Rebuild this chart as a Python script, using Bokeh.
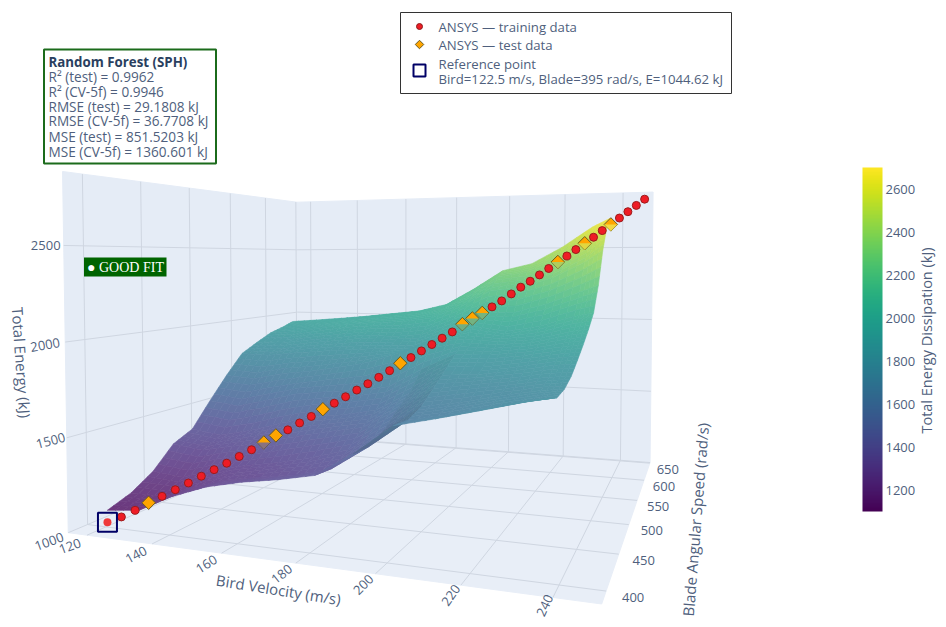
import numpy as np
from bokeh.plotting import figure
from bokeh.embed import file_html
from bokeh.resources import INLINE
from bokeh.models import Range1d, ColorBar, LinearColorMapper, FixedTicker
from bokeh.core.properties import value
from bokeh.palettes import Viridis256

# ---- data ----
bird_ticks=[120,140,160,180,200,220,240]
blade_ticks=[400,450,500,550,600,650]
energy_ticks=[1000,1500,2000,2500]
colorbar_ticks=[1200,1400,1600,1800,2000,2200,2400,2600]
point_bird=[122.5,125,127.5,130,132.5,135,137.5,140,142.5,145,147.5,150,152.5,155,157.5,160,162.5,165,167.5,170,172.5,175,177.5,180,182.5,185,187.5,190,192.5,195,197.5,200,202.5,205,207.5,210,212.5,215,217.5,220,222.5,225,227.5,230,232.5,235,237.5,240,242.5,245,247.5]
point_blade=[395,400,405,410,415,420,425,430,435,440,445,450,455,460,465,470,475,480,485,490,495,500,505,510,515,520,525,530,535,540,545,550,555,560,565,570,575,580,585,590,595,600,605,610,615,620,625,630,635,640,645]
point_energy=[1044.62,1064,1091,1123,1150,1178,1207,1237,1266,1295,1326,1357,1392,1426,1452,1486,1518,1555,1585,1618,1653,1686,1720,1756,1797,1828,1865,1901,1937,1973,2019,2052,2085,2121,2157,2200,2242,2279,2319,2360,2402,2441,2483,2525,2565,2610,2652,2696,2740,2784,2828]
test_index=[3,12,13,17,24,30,31,32,40,43,46]
surface_bird=[122.5,132.5,142.5,152.5,162.5,172.5,182.5,192.5,202.5,212.5,222.5,232.5,238.0]
surface_blade=[395,415,435,455,475,495,515,535,555,575,595,610]
surface_energy=[
[1108,1128,1219,1286,1328,1358,1396,1515,1661,1705,1753,1802,1825],
[1150,1150,1218,1274,1307,1335,1384,1510,1652,1691,1736,1781,1798],
[1223,1207,1266,1305,1338,1381,1436,1551,1685,1717,1760,1797,1809],
[1340,1317,1355,1392,1439,1482,1516,1624,1748,1777,1803,1835,1844],
[1392,1369,1410,1465,1517,1540,1579,1685,1816,1824,1855,1891,1902],
[1535,1513,1559,1609,1632,1652,1683,1793,1886,1889,1913,1949,1964],
[1670,1658,1699,1723,1756,1796,1864,1936,1955,1947,1963,2013,2032],
[1793,1788,1811,1831,1845,1861,1864,1936,2016,1991,2026,2088,2111],
[1848,1851,1878,1900,1924,1920,1938,2013,2084,2091,2147,2221,2264],
[1899,1914,1945,1975,1991,2003,2031,2108,2215,2242,2303,2401,2476],
[1929,1950,1978,2001,2024,2043,2079,2184,2304,2333,2406,2516,2628],
[1957,1973,1990,2009,2032,2055,2104,2216,2342,2390,2498,2632,2686]]
info_title="Random Forest (SPH)"
info_lines=["R² (test) = 0.9962","R² (CV-5f) = 0.9946","RMSE (test) = 29.1808 kJ","RMSE (CV-5f) = 36.7708 kJ","MSE (test) = 851.5203 kJ","MSE (CV-5f) = 1360.601 kJ"]

# ---- scene: a perspective map calibrated on the scene box and the series ----
W,H=938,619
p=figure(width=W,height=H,x_range=Range1d(0,W),y_range=Range1d(H,0),output_backend="svg",toolbar_location=None,min_border=0,outline_line_color=None)
p.axis.visible=False;p.grid.visible=False
bmin,bmax,wmin,wmax,zmin,zmax=114,250,385,652,1000,2880
anc=[((bmin,wmin,zmin),(77,532),1),((bmax,wmin,zmin),(605,602),1),((bmax,wmax,zmin),(652,460),1),((bmin,wmax,zmin),(297,434),1),((bmin,wmin,zmax),(63,167),1),((bmin,wmax,zmax),(299,200),1),((bmax,wmax,zmax),(657,192),1),
     ((120,wmax,zmax),(312,201),1),((240,wmax,zmax),(622,193),1),((240,wmin,zmin),(555,592),1),((200,wmin,zmin),(377,573),1),
     ((122.5,395,1044.62),(106.7,522.3),4),((152.5,455,1392),(262.7,441.7),4),((185,520,1828),(410,357.3),4),((217.5,585,2319),(538.7,274.7),4),((247.5,645,2828),(644,198.7),4)]
def nrm(X): return np.array([(X[0]-bmin)/(bmax-bmin),(X[1]-wmin)/(wmax-wmin),(X[2]-zmin)/(zmax-zmin),1.0])
A=[]
for X,(u,v),g in anc:
    n=nrm(X)
    A.append(g*np.r_[n,0*n,-u*n]);A.append(g*np.r_[0*n,n,-v*n])
_,_,Vt=np.linalg.svd(np.array(A));P=Vt[-1].reshape(3,4)
if (P@nrm((bmin,wmin,zmin)))[2]<0: P=-P
def proj(b,w,z):
    r=P@nrm((b,w,z));return r[0]/r[2],r[1]/r[2]
def depth(b,w,z): return (P@nrm((b,w,z)))[2]
gb=np.array(surface_bird);gw=np.array(surface_blade);Z=np.array(surface_energy,float)
def blend(e,shade=1.0):
    v=Viridis256[int(np.clip((e-1100)/1600,0,1)*255)]
    c=np.array([int(v[i:i+2],16) for i in (1,3,5)],float)
    c=(c*.76+np.array([235,230,250])*.24)*shade
    return "#%02x%02x%02x"%tuple(int(q) for q in np.clip(c,0,255))
def zint(b,w):
    i=int(np.clip(np.searchsorted(gb,b)-1,0,len(gb)-2));j=int(np.clip(np.searchsorted(gw,w)-1,0,len(gw)-2))
    a=np.clip((b-gb[i])/(gb[i+1]-gb[i]),0,1);c=np.clip((w-gw[j])/(gw[j+1]-gw[j]),0,1)
    return (1-a)*(1-c)*Z[j,i]+a*(1-c)*Z[j,i+1]+(1-a)*c*Z[j+1,i]+a*c*Z[j+1,i+1]
wallc="#e5ecf6";gridc="#cfd6e1"
def poly(pts,col):
    p.patch([q[0] for q in pts],[q[1] for q in pts],fill_color=col,line_color=col)
poly([proj(bmin,wmin,zmin),proj(bmin,wmax,zmin),proj(bmin,wmax,zmax),proj(bmin,wmin,zmax)],wallc)
poly([proj(bmin,wmax,zmin),proj(bmax,wmax,zmin),proj(bmax,wmax,zmax),proj(bmin,wmax,zmax)],wallc)
poly([proj(bmin,wmin,zmin),proj(bmax,wmin,zmin),proj(bmax,wmax,zmin),proj(bmin,wmax,zmin)],"#e8eef7")
def seg(a,b):
    pa=proj(*a);pb=proj(*b);p.line([pa[0],pb[0]],[pa[1],pb[1]],line_color=gridc,line_width=1)
for b in bird_ticks:
    seg((b,wmin,zmin),(b,wmax,zmin));seg((b,wmax,zmin),(b,wmax,zmax))
for w in blade_ticks:
    seg((bmin,w,zmin),(bmax,w,zmin));seg((bmin,w,zmin),(bmin,w,zmax))
for z in energy_ticks:
    seg((bmin,wmin,z),(bmin,wmax,z));seg((bmin,wmax,z),(bmax,wmax,z))
# surface
N=4;cells=[]
for j in range(len(gw)-1):
    for i in range(len(gb)-1):
        sl=max(Z[j,i+1]-Z[j,i],Z[j+1,i+1]-Z[j+1,i])/(gb[i+1]-gb[i])
        sh=1-0.3*np.clip((sl-12.5)/5,0,1) if i<len(gb)-3 else 1.0
        for a in range(N):
            for c in range(N):
                q=[];zz=[]
                for da,dc in ((0,0),(1,0),(1,1),(0,1)):
                    aa=(a+da)/N;cc=(c+dc)/N
                    z=(1-aa)*(1-cc)*Z[j,i]+aa*(1-cc)*Z[j,i+1]+(1-aa)*cc*Z[j+1,i]+aa*cc*Z[j+1,i+1]
                    bb=gb[i]+aa*(gb[i+1]-gb[i]);ww=gw[j]+cc*(gw[j+1]-gw[j])
                    q.append(proj(bb,ww,z));zz.append(z)
                cells.append((depth(bb,ww,np.mean(zz)),[u[0] for u in q],[u[1] for u in q],blend(np.mean(zz),sh)))
cells.sort(key=lambda r:-r[0])
p.patches([r[1] for r in cells],[r[2] for r in cells],fill_color=[r[3] for r in cells],line_color=[r[3] for r in cells],line_width=0.6)
# points
pts=[proj(point_bird[k],point_blade[k],point_energy[k]) for k in range(51)]
tr=[k for k in range(1,51) if k not in test_index]
p.scatter([pts[k][0] for k in test_index],[pts[k][1] for k in test_index],marker="square",angle=np.pi/4,size=9.5,fill_color="#ffa500",line_color="#6b5a1e",line_width=1)
covered=[12,30,31,32,40,43,46]
p.patches([[pts[k][0]-6.7,pts[k][0]+6.7,pts[k][0]] for k in covered],[[pts[k][1],pts[k][1],pts[k][1]+6.7] for k in covered],
          fill_color=[blend(zint(point_bird[k],point_blade[k])) for k in covered],fill_alpha=0.8,line_color=None)
p.scatter([pts[k][0] for k in tr],[pts[k][1] for k in tr],marker="circle",size=8,fill_color="#ee1c25",line_color="#9b1c1c",line_width=1)
p.scatter([pts[0][0]],[pts[0][1]],marker="circle",size=8,fill_color="#ef3a3a",line_color=None)
p.scatter([pts[0][0]],[pts[0][1]],marker="square",size=19,fill_color=None,line_color="#000066",line_width=2)
# tick labels and titles
F=value("Open Sans");TC="#4f5f7d"
def label(x,y,t,size="13px",angle=0,color=TC,align="center",font=F,style="normal"):
    p.text([x],[y],text=[t],text_font=font,text_font_size=size,angle=[np.radians(angle)],text_color=color,text_align=align,text_baseline="middle",text_font_style=style)
for b,a,dx,dy in zip(bird_ticks,[20,28,32,38,45,55,65],[-17,-16,-15,-14,-12,-10,-8],[11,11,11,11,11,10,8]):
    x,y=proj(b,wmin,zmin);label(x+dx,y+dy,str(b),angle=a)
for z,a,dx,dy in zip(energy_ticks,[20,15,10,0],[-19,-16,-20,-18],[9,3,3,0]):
    x,y=proj(bmin,wmin,z);label(x+dx,y+dy,str(z),angle=a)
for w,dx in zip(blade_ticks,[27,25,23,21,20,18]):
    x,y=proj(bmax,w,zmin);label(x+dx,y+6,str(w))
label(278,589,"Bird Velocity (m/s)",size="15px",angle=-9)
label(21,362,"Total Energy (kJ)",size="15px",angle=-86)
label(695,519,"Blade Angular Speed (rad/s)",size="15px",angle=85.5)
# colour bar
mapper=LinearColorMapper(palette=Viridis256,low=1100,high=2700)
cb=ColorBar(color_mapper=mapper,ticker=FixedTicker(ticks=colorbar_ticks),location=(862,108),width=20,height=344,padding=0,margin=0,
            major_tick_line_color=None,minor_tick_line_color=None,bar_line_color=None,border_line_color=None,background_fill_color=None,
            major_label_text_font="Open Sans",major_label_text_font_size="13px",major_label_text_color=TC,label_standoff=3)
p.add_layout(cb,"center")
label(926,340,"Total Energy Dissipation (kJ)",size="14.5px",angle=90)
# legend box
p.quad(left=[400],right=[731],top=[12],bottom=[93],fill_color="white",line_color="#333333",line_width=1)
p.scatter([419],[26],marker="circle",size=6,fill_color="#ee1c25",line_color="#8b1a1a")
p.scatter([419],[44],marker="square",angle=np.pi/4,size=6,fill_color="#ffa500",line_color="#6b5a1e")
p.scatter([419],[70],marker="square",size=12,fill_color=None,line_color="#000066",line_width=2)
label(438,26,"ANSYS — training data",align="left",size="13.2px")
label(438,44.5,"ANSYS — test data",align="left",size="13.2px")
label(438,63,"Reference point",align="left",size="13.2px")
label(438,78,"Bird=122.5 m/s, Blade=395 rad/s, E=1044.62 kJ",align="left",size="13.2px")
# info box
p.quad(left=[43.5],right=[215.5],top=[49],bottom=[163],fill_color="white",line_color="#1b6b1b",line_width=2)
label(48,61,info_title,align="left",color="#2a3f5f",style="bold",size="13.3px")
for y,t in zip([76,91,106,120,136,151],info_lines):
    label(48,y,t,align="left",size="13.6px")
p.quad(left=[83.5],right=[166],top=[257],bottom=[276],fill_color="#006400",line_color=None)
label(125,267,"● GOOD FIT",size="14px",color="white",font=value("Liberation Serif"))
open("out.html","w").write(file_html(p,INLINE))
